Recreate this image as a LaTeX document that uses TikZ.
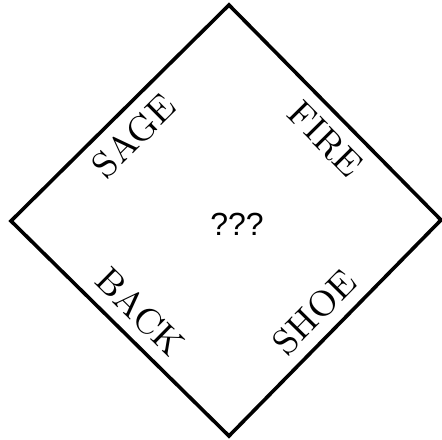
\documentclass[tikz,border=0pt]{standalone}
\usepackage{fontspec}
\newfontfamily\qfont{Liberation Sans}
\usetikzlibrary{positioning}

\begin{document}
\begin{tikzpicture}[x=0.25pt, y=0.25pt, font=\fontsize{9}{11}\selectfont,
	   lbl/.style={sloped, inner sep=3pt}]
	  \useasboundingbox (0,0) rectangle (442,440);
	  \coordinate (t) at (229,435);
	  \coordinate (l) at (11,219);
	  \coordinate (r) at (441,220);
	  \coordinate (b) at (229,4);
	  \draw[line width=0.9pt, line join=miter] (l)--(t)--(r)--(b)--cycle;
	  \path (l)--(t) node[lbl, pos=0.48, below] (sage) {SAGE};
	  \path (t)--(r) node[lbl, pos=0.54, below] (fire) {FIRE};
	  \path (l)--(b) node[lbl, pos=0.51, above] (back) {BACK};
	  \path (b)--(r) node[lbl, pos=0.49, above] (shoe) {SHOE};
	  \node[font=\qfont\fontsize{8}{10}\selectfont] (q) at (237,216) {???};
	\end{tikzpicture}
\end{document}
